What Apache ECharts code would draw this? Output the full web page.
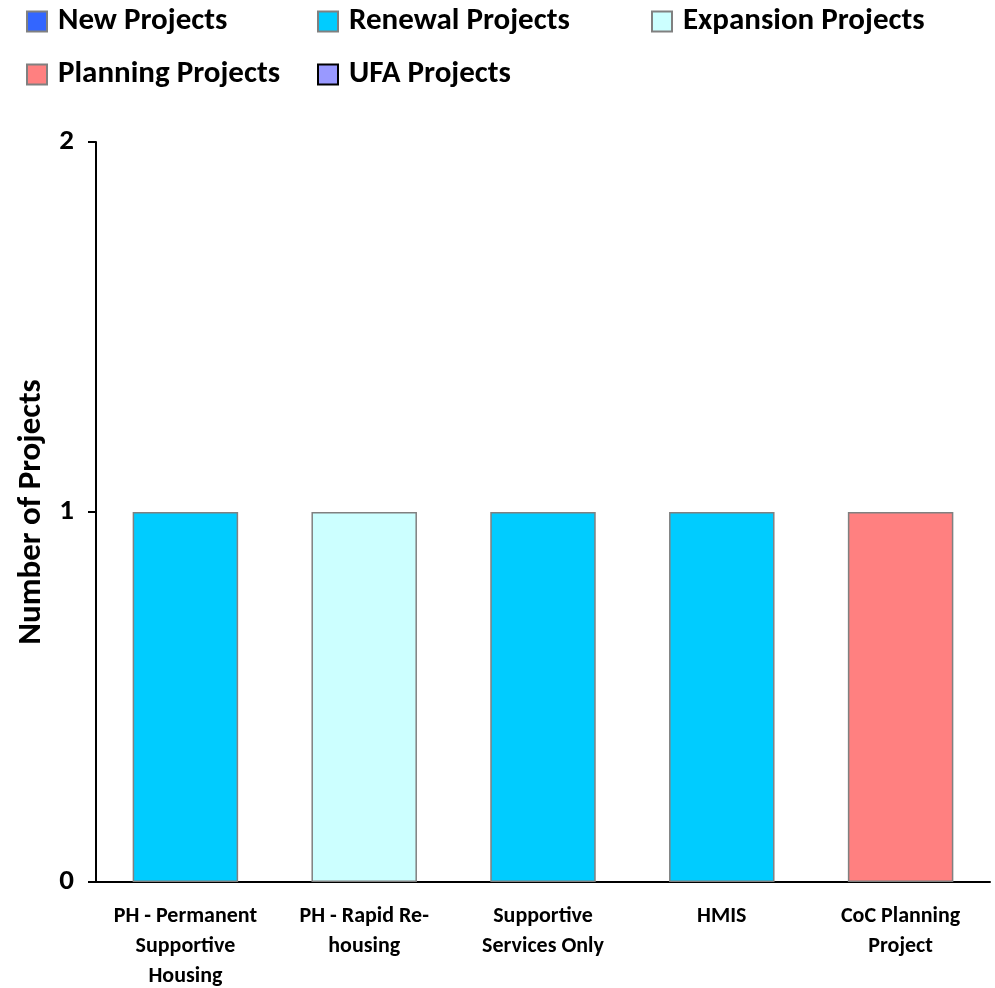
<!DOCTYPE html>
<html><head><meta charset="utf-8">
<script src="https://cdn.jsdelivr.net/npm/echarts@6/dist/echarts.min.js"></script>
<style>html,body{margin:0;padding:0;background:#fff}#c{width:995px;height:988px}</style>
</head><body><div id="c"></div>
<script>
const categories = ['PH - Permanent\nSupportive\nHousing', 'PH - Rapid Re-\nhousing', 'Supportive\nServices Only', 'HMIS', 'CoC Planning\nProject'];
const seriesNames = ['New Projects', 'Renewal Projects', 'Expansion Projects', 'Planning Projects', 'UFA Projects'];
const newProjects = [null, null, null, null, null];
const renewalProjects = [1, null, 1, 1, null];
const expansionProjects = [null, 1, null, null, null];
const planningProjects = [null, null, null, null, 1];
const ufaProjects = [null, null, null, null, null];
const yTicks = [0, 1, 2];

const colors = ['#3366FF', '#00CCFF', '#CCFFFF', '#FF8080', '#9999FF'];
const borders = ['#808080', '#808080', '#808080', '#808080', '#000000'];
const values = [newProjects, renewalProjects, expansionProjects, planningProjects, ufaProjects];
const FONT = 'Carlito, Lato, "Open Sans", sans-serif';

const legendPos = [[21, 1], [312, 1], [646, 1], [21, 54], [312, 54]];
const legends = seriesNames.map((n, i) => ({
  data: [n], left: legendPos[i][0], top: legendPos[i][1], itemWidth: 20, itemHeight: 20, itemGap: 6,
  icon: 'rect', textStyle: {fontFamily: FONT, fontWeight: 'bold', fontSize: 31, color: '#000', padding: [0, 0, 0, 6]},
  itemStyle: {borderColor: borders[i], borderWidth: 2}
}));

const chart = echarts.init(document.getElementById('c'));
chart.setOption({
  animation: false,
  legend: legends,
  grid: {left: 96, right: 5, top: 142, bottom: 106, containLabel: false, outerBoundsMode: 'none'},
  xAxis: {
    type: 'category', data: categories,
    axisLine: {lineStyle: {color: '#000', width: 2}},
    axisTick: {show: false},
    axisLabel: {interval: 0, fontFamily: FONT, fontWeight: 'bold', fontSize: 22, color: '#000', lineHeight: 30, margin: 19}
  },
  yAxis: {
    type: 'value', min: 0, max: 2, interval: 1,
    name: 'Number of Projects', nameLocation: 'middle', nameGap: 48, nameRotate: 90,
    nameTextStyle: {fontFamily: FONT, fontWeight: 'bold', fontSize: 33, color: '#000'},
    axisLine: {show: true, lineStyle: {color: '#000', width: 2}},
    axisTick: {show: true, length: 8, lineStyle: {color: '#000', width: 2}},
    splitLine: {show: false},
    axisLabel: {fontFamily: FONT, fontWeight: 'bold', fontSize: 29, color: '#000', margin: 22,
      formatter: v => yTicks.includes(v) ? String(v) : ''}
  },
  series: seriesNames.map((n, i) => ({
    name: n, type: 'bar', stack: 'all', data: values[i], barWidth: '59%',
    itemStyle: {color: colors[i], borderColor: borders[i], borderWidth: 1.5}
  }))
});
</script></body></html>
